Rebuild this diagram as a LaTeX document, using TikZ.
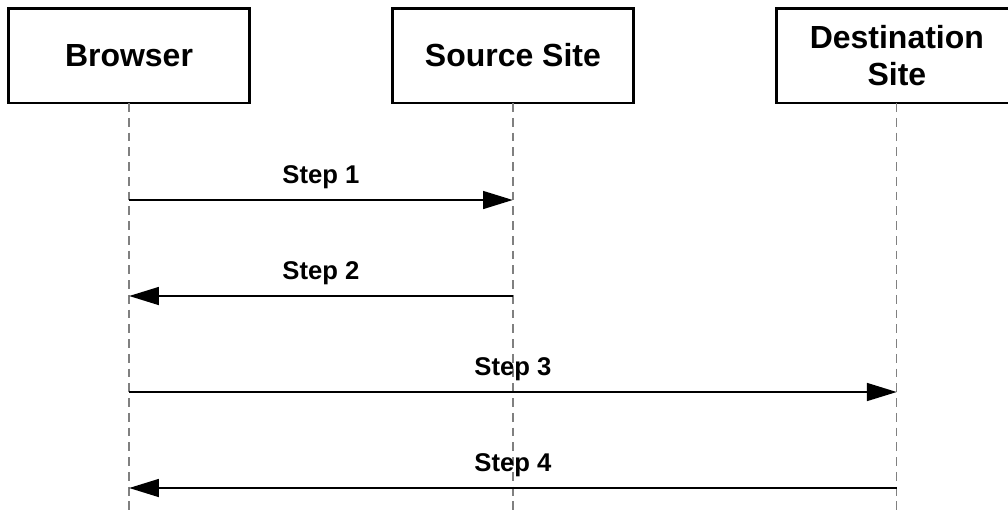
\documentclass[tikz,border=0pt]{standalone}
\usepackage{fontspec}
\setmainfont{Liberation Sans}
\usetikzlibrary{arrows.meta,positioning}
\definecolor{lifegray}{RGB}{128,128,128}

\begin{document}
\begin{tikzpicture}[
    x=0.02cm, y=-0.02cm,
    node distance=2.86cm,
    actor/.style={
      draw, line width=1.7pt, minimum width=4.82cm,
      minimum height=1.9cm, outer sep=0pt, align=center,
      font=\fontsize{18.2}{21}\selectfont\bfseries
    },
    steplabel/.style={font=\fontsize{14.6}{17}\selectfont\bfseries},
    life/.style={lifegray, line width=0.7pt, dash pattern=on 5pt off 3.4pt},
    arr/.style={-{Triangle[length=17pt,width=10pt]}, line width=1.6pt},
  ]
  \useasboundingbox (0,0) rectangle (1008,512);

  % Participants
  \node[actor] (brw) at (129,55.5) {Browser};
  \node[actor, right=of brw] (src) {Source Site};
  \node[actor, right=of src] (dst) {Destination\\Site};

  % Lifelines
  \foreach \p in {brw, src, dst} {
    \coordinate (\p end) at (\p.south |- 0,512);
    \draw[life] (\p.south) -- (\p end);
  }

  % Message points on the lifelines
  \foreach \n/\y in {1/200, 2/296, 3/392, 4/488} {
    \coordinate (brw\n) at (brw.south |- 0,\y);
    \coordinate (src\n) at (src.south |- 0,\y);
    \coordinate (dst\n) at (dst.south |- 0,\y);
  }

  % Messages
  \draw[arr] (brw1) -- (src1) node[midway, above=2pt, steplabel] {Step 1};
  \draw[arr] (src2) -- (brw2) node[midway, above=2pt, steplabel] {Step 2};
  \draw[arr] (brw3) -- (dst3) node[midway, above=2pt, steplabel] {Step 3};
  \draw[arr] (dst4) -- (brw4) node[midway, above=2pt, steplabel] {Step 4};

\end{tikzpicture}
\end{document}
